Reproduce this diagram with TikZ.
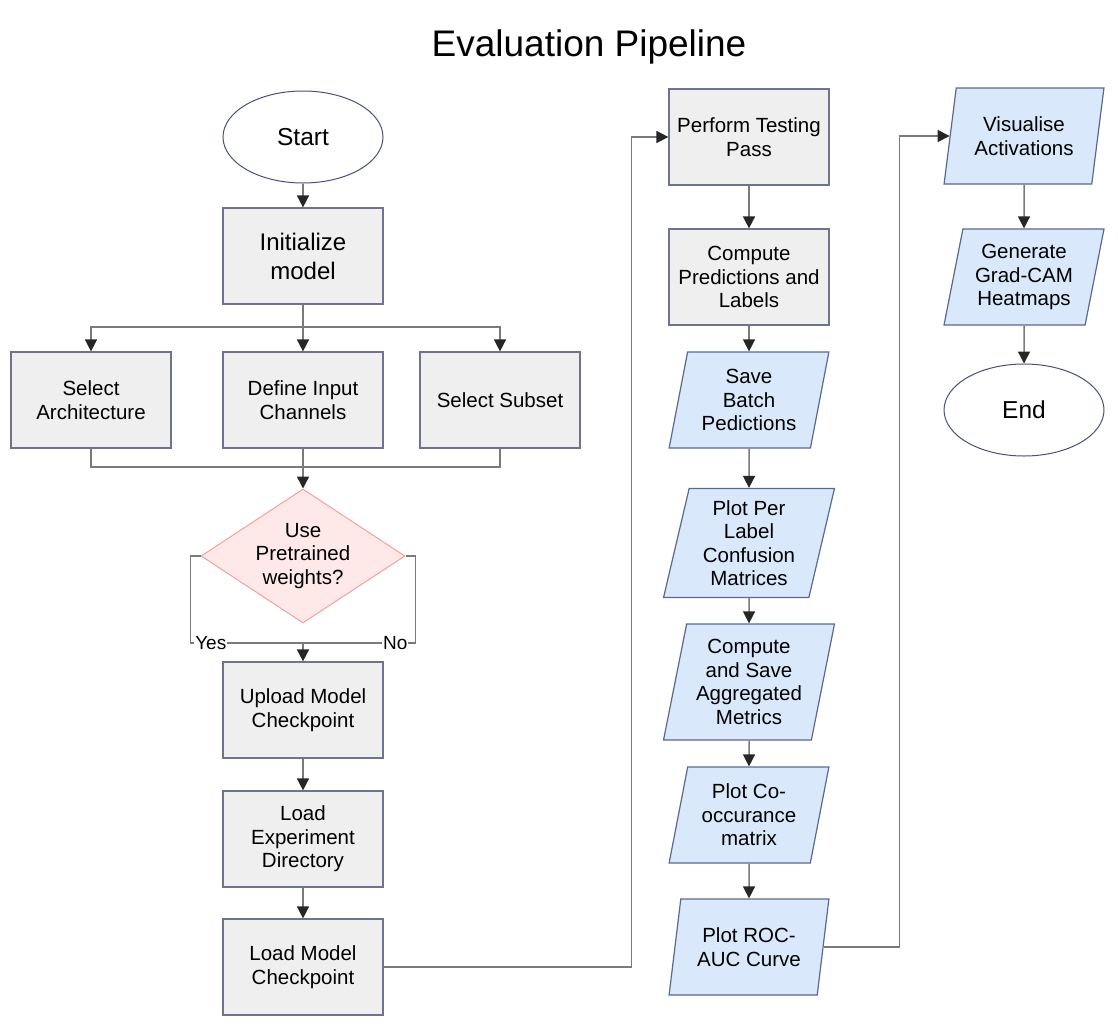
\documentclass[tikz,border=0pt]{standalone}
\usepackage{fontspec}
\setmainfont{Liberation Sans}
\usepackage{tikz}
\usetikzlibrary{%
  positioning,
  arrows.meta,
  calc,
  shapes,
  shapes.geometric
}
\definecolor{stepfill}{HTML}{EFEFEF}
\definecolor{stepline}{HTML}{6E7490}
\definecolor{iofill}{HTML}{DAE8FC}
\definecolor{ioline}{HTML}{5A6A8C}
\definecolor{askfill}{HTML}{FFE8E8}
\definecolor{askline}{HTML}{F4A0A0}
\definecolor{termline}{HTML}{4A4F80}
\definecolor{wire}{HTML}{7A7A7A}
\tikzset{
  stepbox/.style = {rectangle, draw = stepline, fill = stepfill, line width = 1.2pt,
    minimum width = 160pt, minimum height = 96pt, inner sep = 0,
    align = center, font = \fontsize{20.5}{23.5}\selectfont},
  iobox/.style = {trapezium, trapezium stretches = true,
    trapezium left angle = 77, trapezium right angle = 103,
    draw = ioline, fill = iofill, line width = 1.2pt,
    minimum width = 160pt, minimum height = 96pt, inner sep = 0,
    align = center, font = \fontsize{20.5}{23.5}\selectfont},
  askbox/.style = {diamond, draw = askline, fill = askfill, line width = 1pt,
    minimum width = 204pt, minimum height = 134pt, inner sep = 0, aspect = 1.52,
    align = center, font = \fontsize{20.5}{23.5}\selectfont},
  termbox/.style = {ellipse, draw = termline, fill = white, line width = 1pt,
    minimum width = 160pt, minimum height = 92pt, inner sep = 0,
    font = \fontsize{24.5}{28}\selectfont},
  wirelabel/.style = {fill = white, inner sep = 1pt, font = \fontsize{19}{22}\selectfont},
  flow/.style = {draw = wire, line width = 1.5pt,
    -{Triangle[width = 12pt, length = 12pt, color = black!85]}},
  plain/.style = {draw = wire, line width = 1.5pt}
}

\begin{document}
\begin{tikzpicture}[x = 1pt, y = -1pt]
  \useasboundingbox (0,0) rectangle (1118,1028);
  \node (title) [anchor = base, font = \fontsize{37}{42}\selectfont] at (589,56)
    {Evaluation Pipeline};

  % left column
  \node (start) [termbox] at (303,137) {Start};
  \node (init) [stepbox, font = \fontsize{24}{29}\selectfont] at (303,256)
    {Initialize\\model};
  \node (arch) [stepbox] at (91,400) {Select\\Architecture};
  \node (chan) [stepbox] at (303,400) {Define Input\\Channels};
  \node (subset) [stepbox] at (500,400) {Select Subset};
  \node (decide) [askbox] at (303,556) {Use\\Pretrained\\weights?};
  \node (upload) [stepbox] at (303,710) {Upload Model\\Checkpoint};
  \node (loadexp) [stepbox] at (303,839) {Load\\Experiment\\Directory};
  \node (loadmodel) [stepbox] at (303,967) {Load Model\\Checkpoint};

  % middle column
  \node (test) [stepbox] at (749,137) {Perform Testing\\Pass};
  \node (preds) [stepbox] at (749,277) {Compute\\Predictions and\\Labels};
  \node (savebatch) [iobox] at (749,400) {Save\\Batch\\Pedictions};
  \node (confmat) [iobox, minimum width = 171pt, minimum height = 109pt] at (749,543)
    {Plot Per\\Label\\Confusion\\Matrices};
  \node (aggmetrics) [iobox, minimum width = 171pt, minimum height = 116pt] at (749,682)
    {Compute\\and Save\\Aggregated\\Metrics};
  \node (cooc) [iobox] at (749,815) {Plot Co-\\occurance\\matrix};
  \node (roc) [iobox] at (749,947) {Plot ROC-\\AUC Curve};

  % right column
  \node (visual) [iobox] at (1024,136) {Visualise\\Activations};
  \node (gradcam) [iobox] at (1024,277) {Generate\\Grad-CAM\\Heatmaps};
  \node (finish) [termbox] at (1024,410) {End};

  % connectors
  \coordinate (split) at (303,327);
  \coordinate (join) at (303,467);
  \coordinate (yesno) at (303,643);
  \draw[flow] (start) -- (init);
  \draw[plain] (init) -- (split);
  \draw[flow] (split) -| (arch);
  \draw[flow] (split) -- (chan);
  \draw[flow] (split) -| (subset);
  \draw[plain] (arch) |- (join);
  \draw[plain] (subset) |- (join);
  \draw[plain] (chan) -- (join);
  \draw[flow] (join) -- (decide);
  \draw[plain] (decide.west) -- ++(-10,0) |- (yesno)
    node (yes) [wirelabel, pos = 0.59] {Yes};
  \draw[plain] (decide.east) -- ++(10,0) |- (yesno)
    node (no) [wirelabel, pos = 0.59] {No};
  \draw[flow] (yesno) -- (upload);
  \draw[flow] (upload) -- (loadexp);
  \draw[flow] (loadexp) -- (loadmodel);
  \draw[flow] (loadmodel.east) -- ++(248,0) |- (test.west);
  \draw[flow] (test) -- (preds);
  \draw[flow] (preds) -- (savebatch);
  \draw[flow] (savebatch) -- (confmat);
  \draw[flow] (confmat) -- (aggmetrics);
  \draw[flow] (aggmetrics) -- (cooc);
  \draw[flow] (cooc) -- (roc);
  \draw[flow] (roc.east) -- ++(76,0) |- (visual.west);
  \draw[flow] (visual) -- (gradcam);
  \draw[flow] (gradcam) -- (finish);
\end{tikzpicture}
\end{document}
